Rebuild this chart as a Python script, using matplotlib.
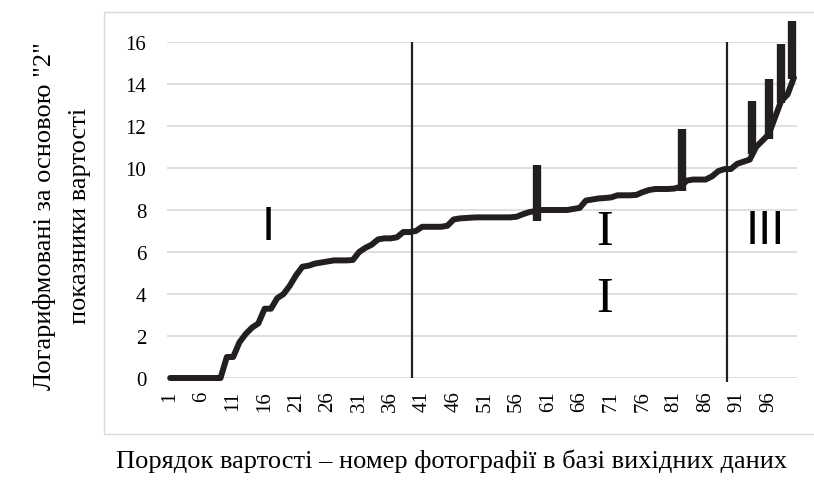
import matplotlib
matplotlib.use("Agg")
import matplotlib.pyplot as plt
from matplotlib.patches import Rectangle
import numpy as np

# sorted log2 values, photo rank 1..100
values = [0, 0, 0, 0, 0, 0, 0, 0, 0, 1.0,
          1.0, 1.7, 2.1, 2.4, 2.6, 3.3, 3.3, 3.8, 4.0, 4.4,
          4.9, 5.3, 5.35, 5.45, 5.5, 5.55, 5.6, 5.6, 5.6, 5.62,
          6.0, 6.2, 6.35, 6.6, 6.65, 6.65, 6.7, 6.95, 6.95, 7.0,
          7.2, 7.2, 7.2, 7.2, 7.25, 7.55, 7.6, 7.62, 7.64, 7.65,
          7.65, 7.65, 7.65, 7.65, 7.65, 7.68, 7.8, 7.9, 7.95, 8.0,
          8.0, 8.0, 8.0, 8.0, 8.05, 8.1, 8.45, 8.5, 8.55, 8.57,
          8.6, 8.7, 8.7, 8.7, 8.72, 8.85, 8.95, 9.0, 9.0, 9.0,
          9.02, 9.1, 9.4, 9.45, 9.45, 9.45, 9.6, 9.85, 9.95, 9.95,
          10.2, 10.3, 10.4, 11.0, 11.3, 11.6, 12.4, 13.2, 13.5, 14.3]
ranks = np.arange(1, len(values) + 1)

# thick spikes drawn over the curve
spike_pos = [59.3, 82.2, 93.4, 96.1, 97.9, 99.7]
spike_lo = [7.48, 8.9, 10.67, 11.4, 13.1, 14.24]
spike_hi = [10.14, 11.86, 13.2, 14.24, 15.9, 17.0]

# zone borders
borders = [39.4, 89.4]

tick_labels = [str(i) for i in range(1, 100, 5)]
yticks = list(range(0, 17, 2))

ink = "#231f20"
serif = "Liberation Serif"

fig = plt.figure(figsize=(8.14, 4.85), dpi=100)
fig.patches.append(Rectangle((104 / 814, 50 / 485), 1.0, 422 / 485,
                             transform=fig.transFigure, fill=False,
                             edgecolor="#d9d9d9", linewidth=1.0))
ax = fig.add_axes([167 / 814, 106 / 485, 630 / 814, 336 / 485])

ax.plot(ranks, values, color=ink, linewidth=4.3, solid_joinstyle="round",
        solid_capstyle="round", clip_on=False, zorder=3)
ax.vlines(spike_pos, spike_lo, spike_hi, colors=ink, linewidth=6.0,
          capstyle="butt", clip_on=False, zorder=4)
ax.vlines(borders, [0, -0.2], [16, 16], colors=ink, linewidth=1.6,
          clip_on=False, zorder=5)

# zone labels
ax.text(16.6, 7.2, "I", fontsize=32, family="DejaVu Sans", color="black",
        ha="center", va="center")
ax.text(95.4, 7.0, "III", fontsize=32, family="DejaVu Sans", color="black",
        ha="center", va="center")
ax.text(70.0, 6.95, "I", fontsize=36, family=serif, color="black",
        ha="center", va="center")
ax.text(70.0, 3.76, "I", fontsize=36, family=serif, color="black",
        ha="center", va="center")

ax.set_xlim(0.5, 100.5)
ax.set_ylim(0, 16)
ax.set_xticks(range(1, 100, 5))
ax.set_xticklabels(tick_labels, rotation=90, family=serif, fontsize=15)
ax.set_yticks(yticks)
ax.set_yticklabels([str(v) for v in yticks], family=serif, fontsize=15)
ax.tick_params(axis="both", length=0)
ax.tick_params(axis="y", pad=15)
ax.tick_params(axis="x", pad=9)
ax.grid(axis="y", color="#d9d9d9", linewidth=1.2)
ax.set_axisbelow(True)
for spine in ax.spines.values():
    spine.set_visible(False)

fig.text(45 / 814, 1 - 216 / 485, 'Логарифмовані за основою "2"',
         rotation=90, family=serif, fontsize=19, ha="center", va="center")
fig.text(80 / 814, 1 - 216 / 485, "показники вартості",
         rotation=90, family=serif, fontsize=19, ha="center", va="center")
fig.text(452 / 814, 1 - 461 / 485,
         "Порядок вартості – номер фотографії в базі вихідних даних",
         family=serif, fontsize=19, ha="center", va="center")

fig.savefig("out.png", dpi=100, facecolor="white")
